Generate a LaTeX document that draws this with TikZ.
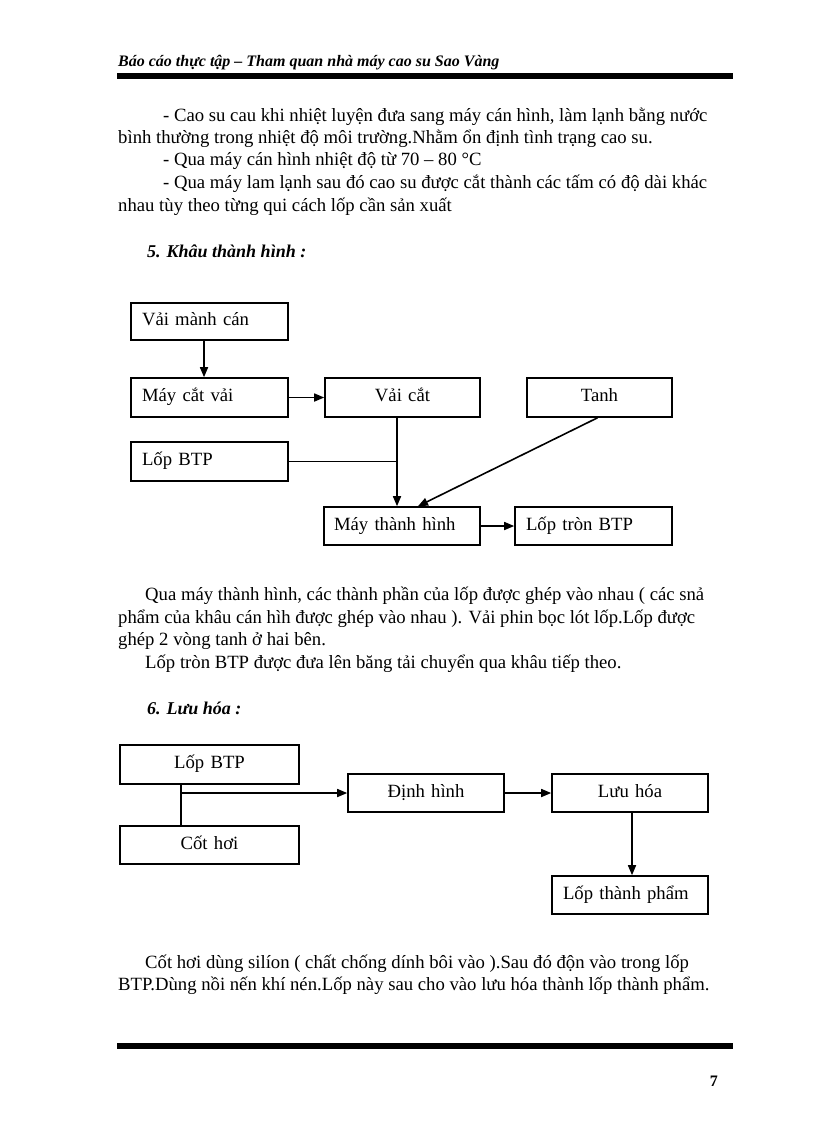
\documentclass[tikz,border=0pt]{standalone}
\usepackage{fontspec}
\setmainfont{Liberation Serif}
\usetikzlibrary{arrows.meta}
\newcommand\bodyfs{\fontsize{18.7}{22}\selectfont}
\newcommand\headfs{\fontsize{16}{20}\selectfont\bfseries\itshape}
\newcommand\secfs{\fontsize{18}{22}\selectfont\bfseries\itshape}
\begin{document}
\begin{tikzpicture}[x=1pt,y=-1pt,
  txt/.style={anchor=base west, inner sep=0pt, font=\bodyfs},
  box/.style={draw, line width=1.6pt, inner ysep=0pt, inner xsep=11pt, font=\bodyfs, text height=12pt, text depth=4pt},
  arr/.style={line width=1.6pt, -{Triangle[length=10pt,width=8pt]}},
  ln/.style={line width=1.6pt}
]
\useasboundingbox (0,0) rectangle (816,1123);
\fill[white] (0,0) rectangle (816,1123);

% header
\node[anchor=base west, inner sep=0pt, font=\headfs] (hdr) at (118,67) {Báo cáo thực tập – Tham quan nhà máy cao su Sao Vàng};
\fill (117,73) rectangle (733,79);

% paragraph 1
\node[txt] (p1) at (163,122) {- Cao su cau khi nhiệt luyện đưa sang máy cán hình, làm lạnh bằng nước};
\node[txt] (p2) at (118,144) {bình thường trong nhiệt độ môi trường.Nhằm ổn định tình trạng cao su.};
\node[txt] (p3) at (163,166) {- Qua máy cán hình nhiệt độ từ 70 – 80 °C};
\node[txt] (p4) at (163,189) {- Qua máy lam lạnh sau đó cao su được cắt thành các tấm có độ dài khác};
\node[txt] (p5) at (118,212) {nhau tùy theo từng qui cách lốp cần sản xuất};

\node[anchor=base west, inner sep=0pt, font=\secfs] (s5) at (147,257) {5. Khâu thành hình :};

% diagram 1
\node[box, align=left, text width=135pt, minimum height=37pt] (vmc) at (209.5,321.5) {\mbox{Vải mành cán}};
\node[box, align=left, text width=135pt, minimum height=39pt] (mcv) at (209.5,397.5) {\mbox{Máy cắt vải}};
\node[box, align=center, text width=133pt, minimum height=39pt] (vc) at (402.5,397.5) {\mbox{Vải cắt}};
\node[box, align=center, text width=123pt, minimum height=39pt] (tanh) at (599.5,397.5) {\mbox{Tanh}};
\node[box, align=left, text width=135pt, minimum height=39pt] (lbtp) at (209.5,461.5) {\mbox{Lốp BTP}};
\node[box, align=left, inner xsep=10pt, text width=136pt, minimum height=38pt] (mth) at (402,526) {\mbox{Máy thành hình}};
\node[box, align=left, text width=135pt, minimum height=38pt] (ltb) at (593.5,526) {\mbox{Lốp tròn BTP}};

\draw[arr] ([xshift=-5.5pt]vmc.south) -- ([xshift=-5.5pt]mcv.north);
\draw[arr] (mcv.east) -- (vc.west);
\draw[arr] ([xshift=-5.5pt]vc.south) -- ([xshift=-5pt]mth.north);
\coordinate (j1) at ([xshift=-5.5pt]vc.south |- lbtp.east);
\draw[ln] (lbtp.east) -- (j1);
\draw[arr] ([xshift=-2pt]tanh.south) -- ([xshift=16pt]mth.north);
\draw[arr] (mth.east) -- (ltb.west);

% paragraph 2
\node[txt] (q1) at (145,600) {Qua máy thành hình, các thành phần của lốp được ghép vào nhau ( các snả};
\node[txt] (q2) at (118,623) {phẩm của khâu cán hìh được ghép vào nhau ). Vải phin bọc lót lốp.Lốp được};
\node[txt] (q3) at (118,645) {ghép 2 vòng tanh ở hai bên.};
\node[txt] (q4) at (145,668) {Lốp tròn BTP được đưa lên băng tải chuyển qua khâu tiếp theo.};

\node[anchor=base west, inner sep=0pt, font=\secfs] (s6) at (147,714) {6. Lưu hóa :};

% diagram 2
\node[box, align=center, text width=157pt, minimum height=39pt] (lb2) at (209.5,764.5) {\mbox{Lốp BTP}};
\node[box, align=center, text width=157pt, minimum height=38pt] (ch) at (209.5,845) {\mbox{Cốt hơi}};
\node[box, align=center, text width=134pt, minimum height=38pt] (dh) at (426,793) {\mbox{Định hình}};
\node[box, align=center, text width=134pt, minimum height=38pt] (lh) at (630,793) {\mbox{Lưu hóa}};
\node[box, align=left, text width=134pt, minimum height=38pt] (ltp) at (630,895) {\mbox{Lốp thành phẩm}};

\draw[ln] ([xshift=-28.5pt]lb2.south) -- ([xshift=-28.5pt]ch.north);
\coordinate (j2) at ([xshift=-28.5pt]lb2.south |- dh.west);
\draw[arr] (j2) -- (dh.west);
\draw[arr] (dh.east) -- (lh.west);
\draw[arr] ([xshift=2pt]lh.south) -- ([xshift=2pt]ltp.north);

% paragraph 3
\node[txt] (r1) at (145,968) {Cốt hơi dùng silíon ( chất chống dính bôi vào ).Sau đó độn vào trong lốp};
\node[txt] (r2) at (118,990) {BTP.Dùng nồi nến khí nén.Lốp này sau cho vào lưu hóa thành lốp thành phẩm.};

% footer
\fill (117,1043) rectangle (733,1049);
\node[anchor=base east, inner sep=0pt, font=\fontsize{16}{20}\selectfont\bfseries] (pg) at (718,1086) {7};
\end{tikzpicture}
\end{document}
